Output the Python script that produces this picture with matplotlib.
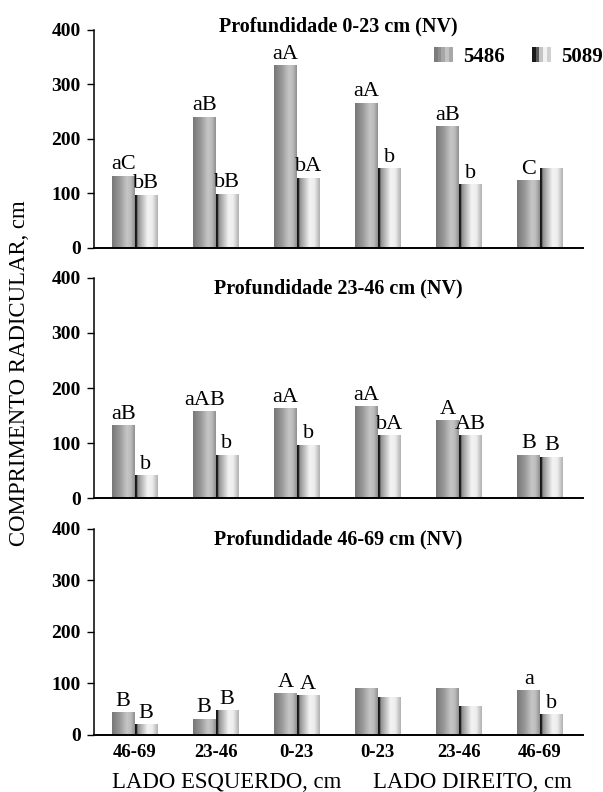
import matplotlib
matplotlib.use("Agg")
import matplotlib.pyplot as plt
import numpy as np
from matplotlib.colors import LinearSegmentedColormap
from matplotlib.legend_handler import HandlerBase
from matplotlib.patches import Rectangle

plt.rcParams['font.family'] = ['Liberation Serif', 'DejaVu Serif']

# Data (root length, cm)
positions = ["46-69", "23-46", "0-23", "0-23", "23-46", "46-69"]
series = ["5486", "5089"]
titles = ["Profundidade 0-23 cm (NV)", "Profundidade 23-46 cm (NV)",
          "Profundidade 46-69 cm (NV)"]

p1_5486 = [132, 240, 334, 266, 222, 123]
p1_5089 = [97, 99, 128, 145, 116, 145]
p2_5486 = [131, 157, 162, 166, 140, 78]
p2_5089 = [40, 78, 96, 113, 113, 74]
p3_5486 = [43, 30, 80, 90, 91, 86]
p3_5089 = [20, 47, 76, 72, 56, 39]

p1_lab_5486 = ["aC", "aB", "aA", "aA", "aB", "C"]
p1_lab_5089 = ["bB", "bB", "bA", "b", "b", ""]
p2_lab_5486 = ["aB", "aAB", "aA", "aA", "A", "B"]
p2_lab_5089 = ["b", "b", "b", "bA", "AB", "B"]
p3_lab_5486 = ["B", "B", "A", "", "", "a"]
p3_lab_5089 = ["B", "B", "A", "", "", "b"]

# cylinder-like shading of the bars
cmap_5486 = LinearSegmentedColormap.from_list(
    "c5486", [(0, "#767676"), (0.35, "#9a9a9a"), (0.65, "#c6c6c6"),
              (0.82, "#bcbcbc"), (1, "#8e8e8e")])
cmap_5089 = LinearSegmentedColormap.from_list(
    "c5089", [(0, "#141414"), (0.08, "#1c1c1c"), (0.11, "#8c8c8c"),
              (0.55, "#f3f3f3"), (0.75, "#eeeeee"), (1, "#b0b0b0")])
legend_5486 = ["#7c7c7c", "#8e8e8e", "#a6a6a6", "#c2c2c2", "#a8a8a8"]
legend_5089 = ["#1a1a1a", "#5a5a5a", "#c4c4c4", "#f2f2f2", "#d0d0d0"]


class StripeHandler(HandlerBase):
    def __init__(self, colors):
        super().__init__()
        self.colors = colors

    def create_artists(self, legend, orig_handle, xdescent, ydescent,
                       width, height, fontsize, trans):
        n = len(self.colors)
        w = width / n
        arts = []
        for i, c in enumerate(self.colors):
            r = Rectangle((-xdescent + i * w, -ydescent), w * 1.02, height,
                          facecolor=c, edgecolor="none", transform=trans)
            arts.append(r)
        return arts


def shade(ax, bars, cmap):
    grad = np.linspace(0, 1, 256).reshape(1, -1)
    for b in bars:
        x0 = b.get_x()
        x1 = x0 + b.get_width()
        ax.imshow(grad, cmap=cmap, extent=(x0, x1, 0, b.get_height()),
                  aspect="auto", interpolation="bilinear", zorder=2)


def label(ax, bars, labels):
    for b, lab in zip(bars, labels):
        if lab:
            ax.annotate(lab, (b.get_x() + b.get_width() / 2, b.get_height()),
                        xytext=(0, 1.5), textcoords="offset points",
                        ha="center", va="bottom", fontsize=16)


fig = plt.figure(figsize=(6.03, 7.92), dpi=100)
rects = [[0.1559, 0.6869, 0.811, 0.2753],
         [0.1559, 0.3712, 0.811, 0.2778],
         [0.1559, 0.0720, 0.811, 0.2601]]
data = [(p1_5486, p1_5089, p1_lab_5486, p1_lab_5089),
        (p2_5486, p2_5089, p2_lab_5486, p2_lab_5089),
        (p3_5486, p3_5089, p3_lab_5486, p3_lab_5089)]
title_y = [1.018, 0.952, 0.951]

x = np.arange(len(positions))
w = 0.28
for i, (rect, (a, b, la, lb)) in enumerate(zip(rects, data)):
    ax = fig.add_axes(rect)
    bars1 = ax.bar(x - w / 2, a, w, color="none", edgecolor="none")
    bars2 = ax.bar(x + w / 2, b, w, color="none", edgecolor="none")
    shade(ax, bars1, cmap_5486)
    shade(ax, bars2, cmap_5089)
    label(ax, bars1, la)
    label(ax, bars2, lb)
    ax.set_xlim(-0.5, 5.53)
    ax.set_ylim(0, 400)
    ax.set_yticks([0, 100, 200, 300, 400])
    ax.spines[["top", "right"]].set_visible(False)
    ax.spines["left"].set_linewidth(1.1)
    ax.spines["bottom"].set_linewidth(1.4)
    ax.tick_params(axis="y", direction="out", length=5, width=1, pad=4.5,
                   labelsize=14)
    for t in ax.get_yticklabels():
        t.set_fontweight("bold")
    ax.tick_params(axis="x", length=0, pad=6.5, labelsize=13.5)
    if i == 2:
        ax.set_xticks(x)
        ax.set_xticklabels(positions, fontweight="bold")
    else:
        ax.set_xticks([])
    ax.text(0.5, title_y[i], titles[i], transform=ax.transAxes,
            ha="center", va="center", fontsize=14.5, fontweight="bold")

h1 = Rectangle((0, 0), 1, 1)
h2 = Rectangle((0, 0), 1, 1)
fig.legend([h1, h2], series, loc="center",
           bbox_to_anchor=(518 / 603, 1 - 56.5 / 792), ncol=2, frameon=False,
           handler_map={h1: StripeHandler(legend_5486),
                        h2: StripeHandler(legend_5089)},
           prop={"weight": "bold", "size": 15}, handlelength=0.95,
           handleheight=0.75, handletextpad=0.45, columnspacing=1.3,
           borderpad=0, borderaxespad=0)

fig.text(20 / 603, 1 - 373 / 792, "COMPRIMENTO RADICULAR, cm", rotation=90,
         ha="center", va="center", fontsize=16.4)
fig.text(112 / 603, 1 - 783 / 792, "LADO ESQUERDO, cm", ha="left",
         va="center", fontsize=16.4)
fig.text(572 / 603, 1 - 783 / 792, "LADO DIREITO, cm", ha="right",
         va="center", fontsize=16.4)

fig.savefig("out.png", dpi=100)
